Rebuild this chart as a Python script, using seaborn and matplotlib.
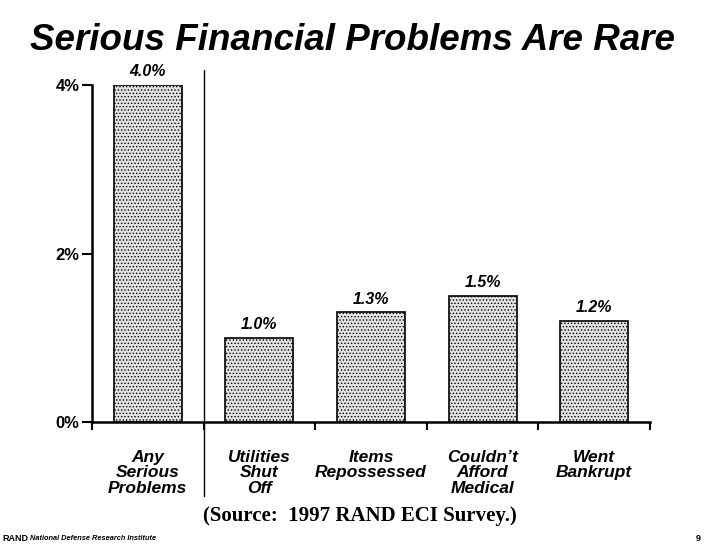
import matplotlib
matplotlib.use('Agg')
import matplotlib.pyplot as plt
import seaborn as sns
import pandas as pd

# Data
categories = ['Any\nSerious\nProblems', 'Utilities\nShut\nOff', 'Items\nRepossessed',
              "Couldn\u2019t\nAfford\nMedical", 'Went\nBankrupt']
values = [4.0, 1.0, 1.3, 1.5, 1.2]
value_labels = ['4.0%', '1.0%', '1.3%', '1.5%', '1.2%']
yticks = [0, 2, 4]
ytick_labels = ['0%', '2%', '4%']

df = pd.DataFrame({'category': categories, 'pct': values})

sns.set_style('white')
plt.rcParams['font.family'] = ['Liberation Sans', 'DejaVu Sans']
plt.rcParams['text.color'] = 'black'
plt.rcParams['xtick.color'] = 'black'
plt.rcParams['ytick.color'] = 'black'
plt.rcParams['hatch.color'] = '#8a8a8a'
plt.rcParams['hatch.linewidth'] = 0.6

fig = plt.figure(figsize=(7.06, 5.48), dpi=100)
ax = fig.add_axes([0.1303, 0.2299, 0.7904, 0.6150])

sns.barplot(data=df, x='category', y='pct', ax=ax, color='#e2e2e2',
            width=0.61, edgecolor='black', linewidth=1.2, saturation=1)
for bar in ax.patches:
    bar.set_hatch('.....')

ax.set_ylim(0, 4)
ax.set_xlim(-0.5, 4.5)
ax.set_xlabel('')
ax.set_ylabel('')

# y axis
ax.set_yticks(yticks)
ax.set_yticklabels(ytick_labels, fontsize=12, fontweight='bold')
ax.tick_params(axis='y', direction='out', length=7, width=1.5, pad=2, left=True)

# x axis: ticks at category boundaries, labels under centers
ax.set_xticks([i for i in range(len(categories))])
ax.set_xticklabels([])
ax.set_xticks([i - 0.5 for i in range(len(categories) + 1)], minor=True)
ax.tick_params(axis='x', which='major', length=0)
ax.tick_params(axis='x', which='minor', direction='out', length=6, width=1.5, bottom=True)

for i, lab in enumerate(categories):
    ax.text(i, -0.33, lab, ha='center', va='top', fontsize=12.5,
            fontweight='bold', fontstyle='italic', linespacing=1.05)

for i, (v, lab) in enumerate(zip(values, value_labels)):
    ax.text(i, v + 0.07, lab, ha='center', va='bottom', fontsize=11.5,
            fontweight='bold', fontstyle='italic')

for side in ['top', 'right']:
    ax.spines[side].set_visible(False)
for side in ['left', 'bottom']:
    ax.spines[side].set_linewidth(1.8)
    ax.spines[side].set_color('black')

# divider between total and components
ax.plot([0.5, 0.5], [-0.88, 4.18], color='black', lw=1.0, clip_on=False)

fig.text(0.5, 0.927, 'Serious Financial Problems Are Rare', ha='center', va='center',
         fontsize=26.5, fontweight='bold', fontstyle='italic')
fig.text(0.51, 0.058, '(Source:  1997 RAND ECI Survey.)', ha='center', va='center',
         fontsize=15, fontweight='bold', family=['Liberation Serif', 'DejaVu Serif'])
fig.text(0.003, 0.018, 'RAND', ha='left', va='center', fontsize=6.5, fontweight='bold')
fig.text(0.042, 0.018, 'National Defense Research Institute', ha='left', va='center',
         fontsize=5.3, fontweight='bold', fontstyle='italic')
fig.text(0.993, 0.018, '9', ha='right', va='center', fontsize=6.5, fontweight='bold')

fig.savefig('out.png', dpi=100)
